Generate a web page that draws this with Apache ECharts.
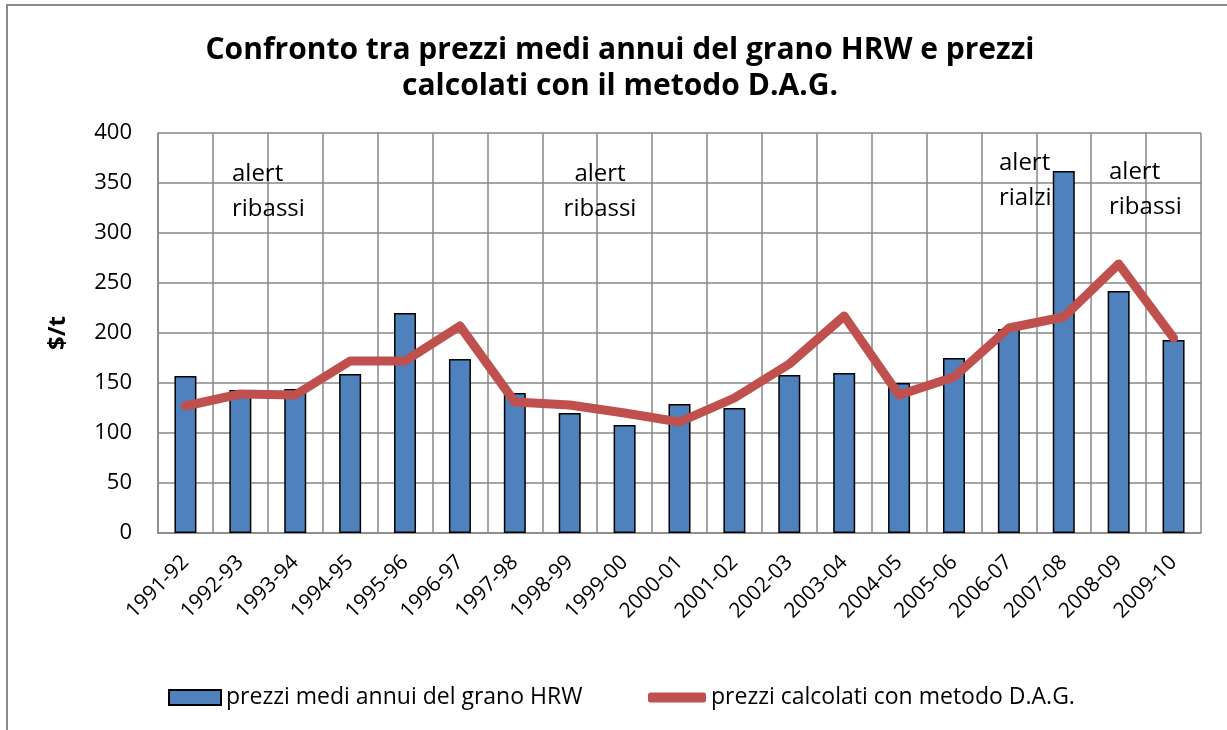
<!DOCTYPE html>
<html>
<head>
<meta charset="utf-8">
<script src="https://cdn.jsdelivr.net/npm/echarts@6/dist/echarts.min.js"></script>
<style>
html,body{margin:0;padding:0;background:#fff;}
#chart{width:1227px;height:730px;}
</style>
</head>
<body>
<div id="chart"></div>
<script>
const categories = ['1991-92','1992-93','1993-94','1994-95','1995-96','1996-97','1997-98','1998-99','1999-00','2000-01','2001-02','2002-03','2003-04','2004-05','2005-06','2006-07','2007-08','2008-09','2009-10'];
const hrwPrices = [157,143,144,159,220,174,140,120,108,129,125,158,160,150,175,204,362,242,193];
const dagPrices = [127,139,138,172,172,207,131,128,120,111,135,169,217,138,156,205,216,269,195];
const seriesNames = ['prezzi medi annui del grano HRW','prezzi calcolati con metodo D.A.G.'];
const titleText = 'Confronto tra prezzi medi annui del grano HRW e prezzi\ncalcolati con il metodo D.A.G.';
const yAxisName = '$/t';
const annotations = [
  {text:'alert\nribassi', x:232, y:157, align:'left'},
  {text:'alert\nribassi', x:600, y:157, align:'center'},
  {text:'alert\nrialzi', x:999, y:146, align:'left'},
  {text:'alert\nribassi', x:1109, y:155, align:'left'}
];

const FONT = '"Open Sans", "Liberation Sans", sans-serif';
const chart = echarts.init(document.getElementById('chart'));
const gridColor = '#878787';

chart.setOption({
  animation: false,
  backgroundColor: '#fff',
  textStyle: {fontFamily: FONT},
  title: {
    text: titleText,
    left: 615,
    textAlign: 'center',
    top: 27,
    textStyle: {fontFamily: FONT, fontWeight: 'bold', fontSize: 30, lineHeight: 36, color: '#000'}
  },
  grid: {left: 158, right: 26, top: 133, bottom: 197, containLabel: false},
  legend: [
    {
      data: [{name: seriesNames[0], icon: 'rect'}],
      left: 163, top: 681,
      itemWidth: 52, itemHeight: 15,
      textStyle: {fontFamily: FONT, fontSize: 23, color: '#000'}
    },
    {
      data: [{name: seriesNames[1], icon: 'roundRect'}],
      left: 643, top: 681,
      itemWidth: 58, itemHeight: 10,
      textStyle: {fontFamily: FONT, fontSize: 23, color: '#000'}
    }
  ],
  xAxis: {
    type: 'category',
    data: categories,
    boundaryGap: true,
    axisLine: {show: true, lineStyle: {color: gridColor, width: 1.5}},
    axisTick: {show: false},
    splitLine: {show: true, interval: 0, lineStyle: {color: gridColor, width: 1.5}},
    axisLabel: {interval: 0, rotate: 45, fontSize: 21, color: '#000', fontFamily: FONT, margin: 26}
  },
  yAxis: {
    type: 'value',
    min: 0, max: 400, interval: 50,
    name: yAxisName,
    nameLocation: 'middle',
    nameRotate: 90,
    nameGap: 88,
    nameTextStyle: {fontFamily: FONT, fontWeight: 'bold', fontSize: 24, color: '#000'},
    axisLine: {show: true, lineStyle: {color: gridColor, width: 1.5}},
    axisTick: {show: false},
    splitLine: {show: true, lineStyle: {color: gridColor, width: 1.5}},
    axisLabel: {fontSize: 22, color: '#000', fontFamily: FONT, margin: 26}
  },
  series: [
    {
      name: seriesNames[0],
      type: 'bar',
      data: hrwPrices,
      barWidth: 22,
      itemStyle: {color: '#4F81BD', borderColor: '#000', borderWidth: 1.5},
      z: 2
    },
    {
      name: seriesNames[1],
      type: 'line',
      data: dagPrices,
      symbol: 'none',
      lineStyle: {color: '#C0504D', width: 9, cap: 'round', join: 'round'},
      itemStyle: {color: '#C0504D'},
      z: 3
    }
  ],
  graphic: [
    {
      type: 'rect', silent: true, z: -1,
      shape: {x: 7, y: 5, width: 1250, height: 760},
      style: {fill: 'none', stroke: '#8a8a8a', lineWidth: 2}
    }
  ].concat(annotations.map(a => ({
    type: 'text', silent: true, z: 10,
    x: a.x, y: a.y,
    style: {text: a.text, fill: '#000', font: '24px ' + FONT, lineHeight: 35, align: a.align, verticalAlign: 'top'}
  })))
});
</script>
</body>
</html>
